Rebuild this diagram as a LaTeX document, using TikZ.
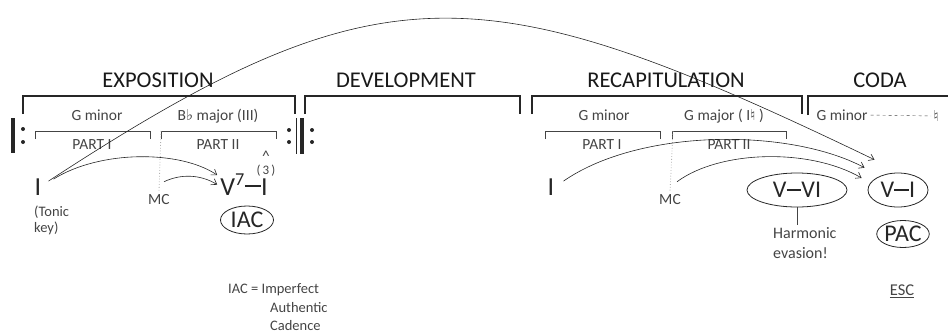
\documentclass[tikz,border=0pt]{standalone}
\usepackage{fontspec}
\setmainfont{Carlito}
\newfontfamily\symfont{DejaVu Sans}
\usetikzlibrary{positioning,shapes.geometric,arrows.meta}
\definecolor{inkgray}{RGB}{68,68,68}
\definecolor{dotgray}{RGB}{175,175,175}
\newcommand{\chorddash}{\rule[0.3em]{0.62em}{0.07em}}
\newcommand{\accsign}[1]{{\symfont\fontsize{15}{16}\selectfont #1}}

\begin{document}
\begin{tikzpicture}[x=1pt,y=-1pt,inner sep=0pt,
  title/.style={font=\fontsize{22.5}{26}\selectfont,text=black!90,anchor=base},
  key/.style={font=\fontsize{15.5}{18}\selectfont,text=inkgray},
  part/.style={font=\fontsize{15.5}{18}\selectfont,text=inkgray},
  chord/.style={font=\fontsize{26}{28}\selectfont,text=black!85,anchor=base},
  cad/.style={ellipse,draw=black!85,thick,font=\fontsize{24}{26}\selectfont,text=black!85},
  note/.style={font=\fontsize{14.5}{20}\selectfont,text=inkgray,align=left},
  bigbracket/.style={line width=1.7pt,black!85},
  subbracket/.style={line width=0.9pt,inkgray},
  link/.style={semithick,black!85,-{Straight Barb[length=5pt,width=7pt]}},
]
\useasboundingbox (0,0) rectangle (948,333);
%Section titles
\node[title] (expo) at (158,87) {EXPOSITION};
\node[title] (dev) at (406,87) {DEVELOPMENT};
\node[title] (recap) at (666,87) {RECAPITULATION};
\node[title] (coda) at (880,87) {CODA};
%Section brackets
\draw[bigbracket] (23,114) |- (295,96) -- (295,114);
\draw[bigbracket] (305,114) |- (520,96) -- (520,114);
\draw[bigbracket] (532,114) |- (802,96) -- (802,114);
\draw[bigbracket] (808,115) |- (948,96);
%Repeat signs
\fill[black!85] (11,118) rectangle (15,153);
\fill[black!85] (23,129) circle (2);
\fill[black!85] (23,142) circle (2);
\fill[black!85] (289,130) circle (2);
\fill[black!85] (289,142) circle (2);
\fill[black!85] (295.5,118) rectangle (297,154);
\fill[black!85] (299.5,118) rectangle (303.5,154);
\fill[black!85] (312,130) circle (2);
\fill[black!85] (312,142) circle (2);
%Keys
\node[key] (gmin1) at (97,115) {G minor};
\node[key] (bflat) at (218,116) {B\accsign{♭} major (III)};
\node[key] (gmin2) at (604,115) {G minor};
\node[key] (gmaj) at (724,116) {G major ( I\accsign{♮} )};
\node[key] (gmin3) at (842,115) {G minor};
\node[key] (nat) at (936,116) {\accsign{♮}};
\draw[inkgray,dashed,dash pattern=on 3pt off 3pt,shorten <=3pt,shorten >=2pt] (gmin3.east) -- (nat.west);
%Parts
\draw[subbracket] (35,139) |- (150,131) -- (150,139);
\draw[subbracket] (161,139) |- (276,131) -- (276,139);
\draw[subbracket] (545,139) |- (660,131) -- (660,139);
\draw[subbracket] (672,139) |- (786,131) -- (786,139);
\node[part] (p1) at (92,145) {PART I};
\node[part] (p2) at (218,145) {PART II};
\node[part] (p3) at (602,145) {PART I};
\node[part] (p4) at (729,145) {PART II};
%Harmony
\node[chord] (expI) at (38,195) {I};
\node[note,font=\fontsize{14.5}{16}\selectfont,anchor=north west] (tonic) at (34,206) {(Tonic\\key)};
\node[key,anchor=base] (expMC) at (159,204) {MC};
\node[chord] (v7) at (244,195) {V\textsuperscript{7}\chorddash I};
\node[key,font=\fontsize{13}{15}\selectfont] (deg) at (266,171) {(\,3\,)};
\node[key] (hat) [above=3pt of deg] {\textasciicircum};
\node[cad,minimum width=53pt,minimum height=28pt] (iac) at (247,220) {IAC};
\node[chord] (recI) at (551,195) {I};
\node[key,anchor=base] (recMC) at (670,204) {MC};
\node[cad,minimum width=100pt,minimum height=34pt] (vvi) at (797,190) {V\chorddash VI};
\node[cad,minimum width=60pt,minimum height=34pt] (vi) at (898,190) {V\chorddash I};
\node[cad,minimum width=52pt,minimum height=27pt] (pac) at (903,234) {PAC};
\node[note,font=\fontsize{16}{20}\selectfont,anchor=north west] (harm) at (773,227) {Harmonic\\evasion!};
\node[note,font=\fontsize{16.5}{18}\selectfont] (esc) at (902,291) {\underline{ESC}};
%Legend
\node[note,anchor=base west] (legend) at (228,293) {IAC = Imperfect};
\node[note,anchor=base west] (auth) at (270,312) {Authentic};
\node[note,anchor=base west] (cadence) at (270,330) {Cadence};
%connections
\draw[dotted,dotgray,thick] (161,131) -- ([yshift=2pt]expMC.north);
\draw[dotted,dotgray,thick] (673,131) -- ([yshift=2pt]recMC.north);
\draw[inkgray] (vvi.south) -- ([yshift=2pt]vvi.south |- harm.north);
\draw[link] ([xshift=12pt,yshift=-1pt]expI.north east) .. controls (100,150) and (180,150) .. ([xshift=-3pt,yshift=-1pt]v7.north west);
\draw[link] ([xshift=5pt,yshift=12pt]expMC.north) .. controls (180,174) and (200,174) .. ([xshift=-3pt]v7.west);
\draw[link] ([xshift=7pt,yshift=-3pt]expI.north east) .. controls (382,-37) and (484,-28) .. ([xshift=-2pt,yshift=18pt]vi.north west);
\draw[link] ([xshift=9pt,yshift=-3pt]recI.north east) .. controls (640,128) and (790,128) .. ([xshift=-12pt,yshift=10pt]vi.north west);
\draw[link] ([xshift=7pt,yshift=12pt]recMC.north) .. controls (720,150) and (810,148) .. ([xshift=-6pt,yshift=12pt]vi.west);
\end{tikzpicture}
\end{document}
